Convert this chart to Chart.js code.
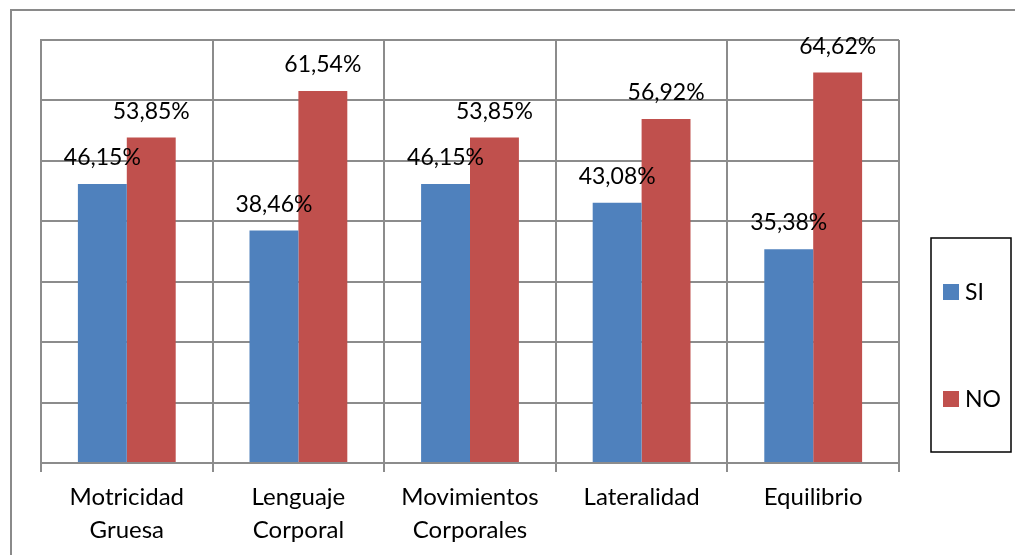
<!DOCTYPE html>
<html>
<head>
<meta charset="utf-8">
<script src="https://cdn.jsdelivr.net/npm/chart.js@4"></script>
<style>
  html, body { margin: 0; padding: 0; background: #fff; }
  #wrap { width: 1015px; height: 555px; }
</style>
</head>
<body>
<div id="wrap"><canvas id="chart" width="1015" height="555"></canvas></div>
<script>
// data
const categories = [
    ['Motricidad', 'Gruesa'],
    ['Lenguaje', 'Corporal'],
    ['Movimientos', 'Corporales'],
    'Lateralidad',
    'Equilibrio'
];
const siValues = [46.15, 38.46, 46.15, 43.08, 35.38];
const noValues = [53.85, 61.54, 53.85, 56.92, 64.62];
const yTicks = [0, 10, 20, 30, 40, 50, 60, 70];

const gridColor = '#8c8c8c';
const fontFamily = 'Lato, "Open Sans", sans-serif';

// outer frame of the picture
const framePlugin = {
    id: 'frame',
    beforeDraw(chart) {
        const ctx = chart.ctx;
        ctx.save();
        ctx.strokeStyle = '#8a8a8a';
        ctx.lineWidth = 2;
        ctx.beginPath();
        ctx.moveTo(11, 555);
        ctx.lineTo(11, 10);
        ctx.lineTo(1015, 10);
        ctx.stroke();
        ctx.restore();
    }
};

// value labels above each bar
const valueLabels = {
    id: 'valueLabels',
    afterDatasetsDraw(chart) {
        const ctx = chart.ctx;
        ctx.save();
        ctx.font = '23px ' + fontFamily;
        ctx.fillStyle = '#000';
        ctx.textAlign = 'center';
        ctx.textBaseline = 'alphabetic';
        chart.data.datasets.forEach(function(ds, i) {
            chart.getDatasetMeta(i).data.forEach(function(bar, j) {
                const txt = ds.data[j].toFixed(2).replace('.', ',') + '%';
                ctx.fillText(txt, bar.x, bar.y - 19);
            });
        });
        ctx.restore();
    }
};

// boxed legend on the right
const boxLegend = {
    id: 'boxLegend',
    afterDraw(chart) {
        const ctx = chart.ctx;
        ctx.save();
        ctx.strokeStyle = '#000';
        ctx.lineWidth = 1.5;
        ctx.strokeRect(931, 238, 80, 214);
        ctx.font = '23px ' + fontFamily;
        ctx.textAlign = 'left';
        ctx.textBaseline = 'middle';
        const rows = [292, 399];
        chart.data.datasets.forEach(function(ds, i) {
            const y = rows[i];
            ctx.fillStyle = ds.backgroundColor;
            ctx.fillRect(943, y - 8, 16, 16);
            ctx.fillStyle = '#000';
            ctx.fillText(ds.label, 965, y + 1);
        });
        ctx.restore();
    }
};

const ctx = document.getElementById('chart').getContext('2d');
new Chart(ctx, {
    type: 'bar',
    data: {
        labels: categories,
        datasets: [
            { label: 'SI', data: siValues, backgroundColor: '#4f81bd' },
            { label: 'NO', data: noValues, backgroundColor: '#c0504d' }
        ]
    },
    options: {
        responsive: false,
        animation: false,
        layout: { padding: { left: 41, right: 116, top: 40, bottom: 0 } },
        datasets: { bar: { categoryPercentage: 0.57, barPercentage: 1 } },
        plugins: {
            legend: { display: false },
            tooltip: { enabled: false }
        },
        scales: {
            x: {
                afterFit: function(s) { s.height = 92; },
                grid: { color: gridColor, lineWidth: 2, offset: true, drawTicks: true, tickLength: 9 },
                border: { color: gridColor, width: 2 },
                ticks: {
                    color: '#000',
                    font: { family: fontFamily, size: 24, lineHeight: 1.375 },
                    padding: 9,
                    maxRotation: 0
                }
            },
            y: {
                min: 0,
                max: 70,
                afterFit: function(s) { s.width = 0; },
                afterBuildTicks: function(s) { s.ticks = yTicks.map(v => ({ value: v })); },
                grid: { color: gridColor, lineWidth: 2, drawTicks: false },
                border: { color: gridColor, width: 2 },
                ticks: { display: false }
            }
        }
    },
    plugins: [framePlugin, valueLabels, boxLegend]
});
</script>
</body>
</html>
